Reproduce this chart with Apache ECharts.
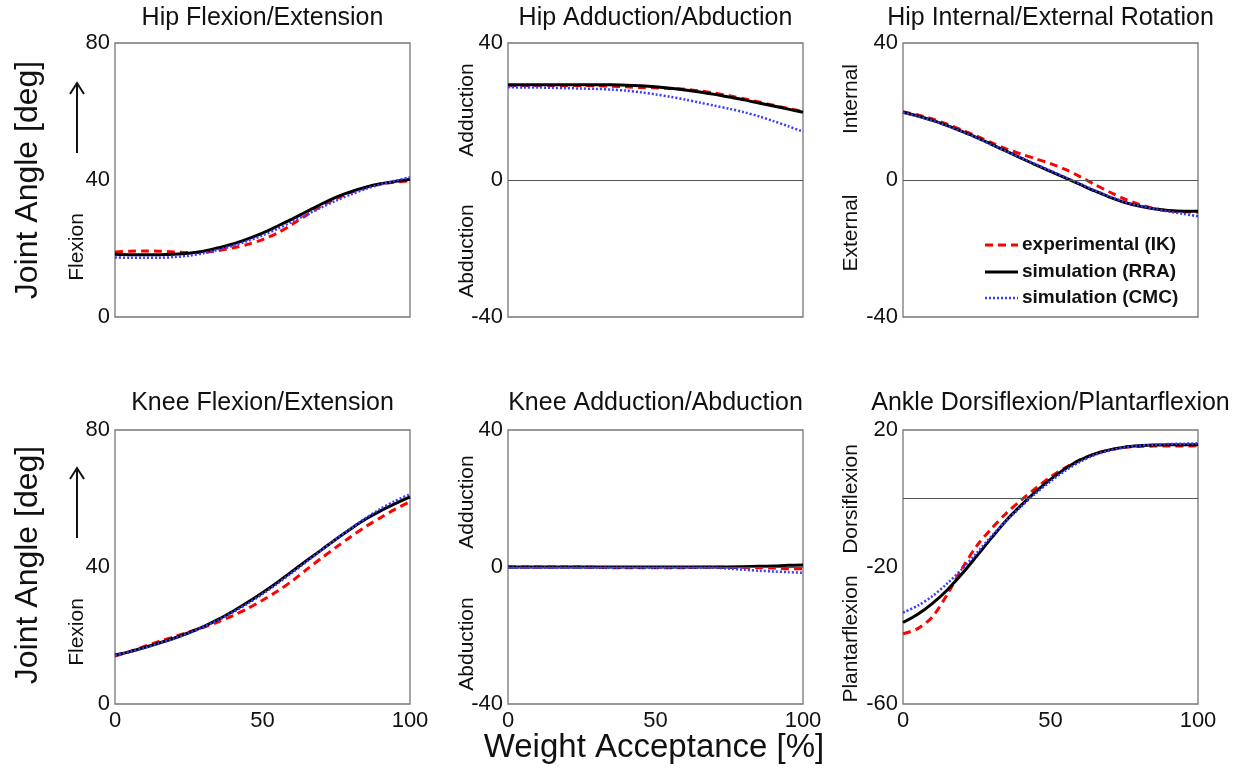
<!DOCTYPE html>
<html>
<head>
<meta charset="utf-8">
<script src="https://cdn.jsdelivr.net/npm/echarts@6/dist/echarts.min.js"></script>
<style>
html,body{margin:0;padding:0;background:#fff;}
#chart{width:1247px;height:771px;}
</style>
</head>
<body>
<div id="chart"></div>
<script>
// ---- data ----
const pct = [0,5,10,15,20,25,30,35,40,45,50,55,60,65,70,75,80,85,90,95,100];

const panelTitles = ['Hip Flexion/Extension','Hip Adduction/Abduction','Hip Internal/External Rotation',
                     'Knee Flexion/Extension','Knee Adduction/Abduction','Ankle Dorsiflexion/Plantarflexion'];
const seriesNames = ['experimental (IK)','simulation (RRA)','simulation (CMC)'];
const xTicks = [0,50,100];
const yTicks = [[0,40,80],[-40,0,40],[-40,0,40],[0,40,80],[-40,0,40],[-60,-20,20]];

const hipFlexIK  = [19.0,19.2,19.3,19.2,19.0,18.8,18.9,19.4,20.2,21.2,22.6,24.5,27.0,29.8,32.4,34.6,36.4,37.8,38.8,39.4,39.8];
const hipFlexRRA = [18.3,18.2,18.2,18.2,18.3,18.6,19.2,20.2,21.3,22.8,24.5,26.5,28.6,30.8,33.0,35.0,36.6,37.9,38.9,39.6,40.2];
const hipFlexCMC = [17.4,17.3,17.3,17.3,17.5,17.9,18.6,19.6,20.8,22.2,23.8,25.7,27.8,29.9,32.0,34.0,35.8,37.4,38.7,39.8,40.8];

const hipAddIK  = [27.5,27.6,27.6,27.6,27.6,27.6,27.5,27.4,27.2,27.0,26.9,26.7,26.5,26.0,25.4,24.6,23.7,22.8,21.8,20.9,20.0];
const hipAddRRA = [27.8,27.8,27.8,27.8,27.8,27.8,27.8,27.8,27.7,27.5,27.2,26.8,26.3,25.7,25.0,24.2,23.4,22.5,21.6,20.7,19.8];
const hipAddCMC = [27.1,27.0,27.0,26.9,26.8,26.7,26.6,26.4,26.1,25.6,25.0,24.3,23.5,22.6,21.7,20.8,19.8,18.6,17.2,15.7,14.1];

const hipRotIK  = [19.9,19.0,17.8,16.3,14.6,12.8,10.9,9.1,7.6,6.2,4.8,3.1,1.0,-1.3,-3.5,-5.5,-7.1,-8.3,-9.0,-9.3,-9.4];
const hipRotRRA = [19.8,18.7,17.4,15.9,14.2,12.4,10.4,8.4,6.4,4.4,2.5,0.6,-1.3,-3.2,-5.0,-6.5,-7.6,-8.4,-8.9,-9.1,-9.1];
const hipRotCMC = [19.7,18.6,17.3,15.8,14.1,12.3,10.3,8.4,6.5,4.6,2.7,0.8,-1.1,-3.0,-4.8,-6.3,-7.5,-8.4,-9.2,-9.9,-10.6];

const kneeFlexIK  = [14.0,15.3,16.8,18.3,19.6,21.0,22.4,24.0,25.8,27.9,30.3,32.9,35.9,39.3,42.6,45.8,48.9,51.8,54.4,56.9,59.1];
const kneeFlexRRA = [14.3,15.3,16.5,17.8,19.2,20.8,22.6,24.7,27.1,29.7,32.5,35.5,38.7,41.9,45.0,48.2,51.2,54.0,56.4,58.5,60.5];
const kneeFlexCMC = [14.2,15.2,16.4,17.7,19.1,20.7,22.5,24.5,26.8,29.3,32.1,35.1,38.3,41.6,44.9,48.2,51.3,54.3,57.0,59.3,61.3];

const kneeAddIK  = [0.0,0.0,0.0,0.0,0.0,0.0,-0.1,-0.2,-0.2,-0.2,-0.2,-0.2,-0.2,-0.1,-0.1,-0.1,-0.1,-0.2,-0.3,-0.5,-0.5];
const kneeAddRRA = [0.0,0.0,0.0,0.0,0.0,0.0,0.0,0.0,0.0,0.0,0.0,0.0,0.0,0.0,0.0,0.0,0.1,0.2,0.3,0.5,0.6];
const kneeAddCMC = [-0.2,-0.2,-0.2,-0.2,-0.2,-0.2,-0.2,-0.2,-0.2,-0.2,-0.2,-0.2,-0.2,-0.2,-0.2,-0.5,-0.8,-1.1,-1.3,-1.5,-1.7];

const ankleIK  = [-39.5,-38.0,-34.5,-28.0,-20.5,-13.8,-8.8,-4.3,-0.5,3.0,6.3,9.0,11.3,13.0,14.2,14.9,15.2,15.3,15.3,15.3,15.4];
const ankleRRA = [-36.2,-33.8,-30.6,-26.7,-22.0,-16.8,-11.5,-6.4,-2.0,2.0,5.6,8.7,11.2,13.0,14.2,15.0,15.4,15.6,15.7,15.7,15.8];
const ankleCMC = [-33.3,-31.3,-28.5,-24.8,-20.6,-15.9,-11.0,-6.5,-2.4,1.5,5.0,8.1,10.7,12.7,14.0,14.9,15.4,15.7,15.9,16.0,16.1];

const panelData = [
  [hipFlexIK, hipFlexRRA, hipFlexCMC],
  [hipAddIK, hipAddRRA, hipAddCMC],
  [hipRotIK, hipRotRRA, hipRotCMC],
  [kneeFlexIK, kneeFlexRRA, kneeFlexCMC],
  [kneeAddIK, kneeAddRRA, kneeAddCMC],
  [ankleIK, ankleRRA, ankleCMC]
];
const zeroLinePanels = [1,2,4,5];

// ---- layout / style ----
const FONT = '"Liberation Sans", Arial, sans-serif';
const gridLefts = [115, 508, 903];
const gridTops = [43, 430];
const GW = 295, GH = 274;
const lineStyles = [
  {color:'#ff0000', width:3, type:[8,5]},
  {color:'#000000', width:3, type:'solid'},
  {color:'#3b3bff', width:2.5, type:[2,2]}
];

const grids = [], xAxes = [], yAxes = [], series = [];
for (let p = 0; p < 6; p++) {
  const row = Math.floor(p / 3), col = p % 3;
  grids.push({left: gridLefts[col], top: gridTops[row], width: GW, height: GH,
              show: true, borderColor: '#777', borderWidth: 1.3, backgroundColor: 'transparent'});
  xAxes.push({type:'value', gridIndex:p, min:0, max:100,
    axisLine:{show:false}, axisTick:{show:false}, splitLine:{show:false},
    axisLabel:{show: row === 1, customValues: xTicks, margin: 6,
      fontFamily: FONT, fontSize: 22, color:'#111'}});
  const yt = yTicks[p];
  yAxes.push({type:'value', gridIndex:p, min: yt[0], max: yt[2],
    axisLine:{show:false}, axisTick:{show:false}, splitLine:{show:false},
    axisLabel:{customValues: yt, margin: 5, fontFamily: FONT, fontSize: 22, color:'#111'}});
  for (let s = 0; s < 3; s++) {
    const vals = panelData[p][s];
    const ser = {
      type:'line', name: seriesNames[s], xAxisIndex:p, yAxisIndex:p,
      data: pct.map((x, i) => [x, vals[i]]),
      smooth: 0.3, symbol:'none', showSymbol:false, silent:true, animation:false,
      lineStyle: Object.assign({cap:'butt'}, lineStyles[s]),
      itemStyle: {color: lineStyles[s].color}
    };
    if (s === 0 && zeroLinePanels.indexOf(p) >= 0) {
      ser.markLine = {silent:true, symbol:['none','none'], label:{show:false},
        lineStyle:{color:'#555', width:1, type:'solid'}, animation:false,
        data:[{yAxis:0}]};
    }
    series.push(ser);
  }
}

function txt(x, y, text, size, opts) {
  opts = opts || {};
  return {type:'text', x:x, y:y, rotation: opts.rot ? Math.PI/2 : 0, silent:true, z: 10,
    style:{text:text, fontFamily:FONT, fontSize:size, fontWeight: opts.bold ? 'bold' : 'normal',
      fill:'#111', textAlign: opts.align || 'center', textVerticalAlign:'middle'}};
}
const graphics = [];
for (let p = 0; p < 6; p++) {
  const row = Math.floor(p / 3), col = p % 3;
  graphics.push(txt(gridLefts[col] + GW/2, row === 0 ? 18 : 403, panelTitles[p], 25));
}
graphics.push(txt(28, 180, 'Joint Angle [deg]', 32, {rot:true}));
graphics.push(txt(28, 565, 'Joint Angle [deg]', 32, {rot:true}));
graphics.push(txt(654, 748, 'Weight Acceptance [%]', 33));
const sideLabels = [
  [77,247,'Flexion'],[77,632,'Flexion'],
  [467,110,'Adduction'],[467,251,'Abduction'],
  [467,502,'Adduction'],[467,644,'Abduction'],
  [851,99,'Internal'],[851,233,'External'],
  [851,499,'Dorsiflexion'],[851,639,'Plantarflexion']
];
sideLabels.forEach(l => graphics.push(txt(l[0], l[1], l[2], 21, {rot:true})));
[[83,153],[468,538]].forEach(a => {
  graphics.push({type:'line', silent:true, shape:{x1:77,y1:a[1],x2:77,y2:a[0]+1}, style:{stroke:'#111', lineWidth:2}});
  graphics.push({type:'polyline', silent:true, shape:{points:[[70,a[0]+11],[77,a[0]],[84,a[0]+11]]}, style:{stroke:'#111', lineWidth:2, fill:null}});
});
// legend (inside the hip rotation panel)
const legendRows = [245, 272, 298];
seriesNames.forEach((name, i) => {
  const ls = lineStyles[i];
  graphics.push({type:'line', silent:true, z:10, shape:{x1:985, y1:legendRows[i], x2:1018, y2:legendRows[i]},
    style:{stroke: ls.color, lineWidth: ls.width, lineDash: Array.isArray(ls.type) ? ls.type : null}});
  graphics.push(txt(1022, legendRows[i], name, 19, {bold:true, align:'left'}));
});

const option = {
  backgroundColor:'#fff',
  animation:false,
  grid: grids, xAxis: xAxes, yAxis: yAxes, series: series,
  graphic: graphics
};
const chart = echarts.init(document.getElementById('chart'), null, {renderer:'canvas'});
chart.setOption(option);
</script>
</body>
</html>
